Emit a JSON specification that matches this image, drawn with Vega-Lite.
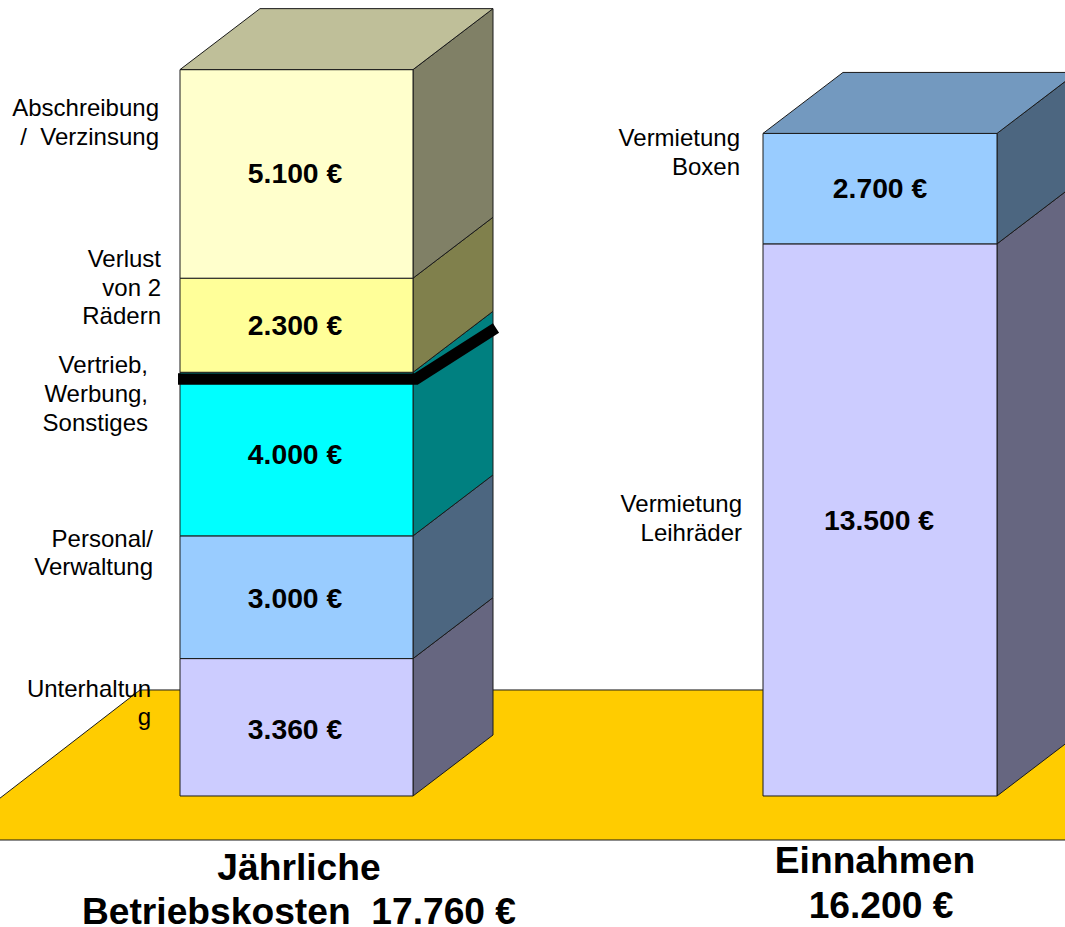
{
"$schema":"https://vega.github.io/schema/vega-lite/v6.json",
"width":1065,"height":927,"padding":0,
"autosize":{"type":"none"},
"background":"white",
"config":{"view":{"stroke":null}},
"datasets":{
"faces":[
{"face":"Boden","x":-5,"low":-1076,"high":-147},{"face":"Boden","x":140,"low":-1076,"high":2592},{"face":"Boden","x":1070,"low":-1076,"high":2592},
{"face":"Kosten Unterhaltung Seite","x":413,"low":0,"high":3360},{"face":"Kosten Unterhaltung Seite","x":493,"low":1491,"high":4851},
{"face":"Kosten Unterhaltung vorn","x":180,"low":0,"high":3360},{"face":"Kosten Unterhaltung vorn","x":413,"low":0,"high":3360},
{"face":"Kosten Personal Seite","x":413,"low":3360,"high":6360},{"face":"Kosten Personal Seite","x":493,"low":4851,"high":7851},
{"face":"Kosten Personal vorn","x":180,"low":3360,"high":6360},{"face":"Kosten Personal vorn","x":413,"low":3360,"high":6360},
{"face":"Kosten Vertrieb Seite","x":413,"low":6360,"high":10360},{"face":"Kosten Vertrieb Seite","x":493,"low":7851,"high":11851},
{"face":"Kosten Vertrieb vorn","x":180,"low":6360,"high":10360},{"face":"Kosten Vertrieb vorn","x":413,"low":6360,"high":10360},
{"face":"Kosten Verlust Seite","x":413,"low":10360,"high":12660},{"face":"Kosten Verlust Seite","x":493,"low":11851,"high":14151},
{"face":"Kosten Verlust vorn","x":180,"low":10360,"high":12660},{"face":"Kosten Verlust vorn","x":413,"low":10360,"high":12660},
{"face":"Kosten Abschreibung Seite","x":413,"low":12660,"high":17760},{"face":"Kosten Abschreibung Seite","x":493,"low":14151,"high":19251},
{"face":"Kosten Abschreibung vorn","x":180,"low":12660,"high":17760},{"face":"Kosten Abschreibung vorn","x":413,"low":12660,"high":17760},
{"face":"Kosten Deckel","x":180,"low":17760,"high":17760},{"face":"Kosten Deckel","x":260,"low":17760,"high":19251},{"face":"Kosten Deckel","x":413,"low":17760,"high":19251},{"face":"Kosten Deckel","x":493,"low":19251,"high":19251},
{"face":"Einnahmen Leihräder Seite","x":997,"low":0,"high":13500},{"face":"Einnahmen Leihräder Seite","x":1077,"low":1491,"high":14991},
{"face":"Einnahmen Leihräder vorn","x":763,"low":0,"high":13500},{"face":"Einnahmen Leihräder vorn","x":997,"low":0,"high":13500},
{"face":"Einnahmen Boxen Seite","x":997,"low":13500,"high":16200},{"face":"Einnahmen Boxen Seite","x":1077,"low":14991,"high":17691},
{"face":"Einnahmen Boxen vorn","x":763,"low":13500,"high":16200},{"face":"Einnahmen Boxen vorn","x":997,"low":13500,"high":16200},
{"face":"Einnahmen Deckel","x":763,"low":16200,"high":16200},{"face":"Einnahmen Deckel","x":843,"low":16200,"high":17691},{"face":"Einnahmen Deckel","x":997,"low":16200,"high":17691},{"face":"Einnahmen Deckel","x":1077,"low":17691,"high":17691}
],
"marker":[{"x":178,"v":10196},{"x":416,"v":10196},{"x":496,"v":11443}],
"labels":[
{"x":159,"v":16626,"t":"Abschreibung"},{"x":159,"v":15917,"t":"/\u00a0\u00a0Verzinsung"},
{"x":161,"v":12934,"t":"Verlust"},{"x":161,"v":12225,"t":"von 2"},{"x":161,"v":11540,"t":"Rädern"},
{"x":148,"v":10342,"t":"Vertrieb,"},{"x":148,"v":9633,"t":"Werbung,"},{"x":148,"v":8924,"t":"Sonstiges"},
{"x":153,"v":6088,"t":"Personal/"},{"x":153,"v":5403,"t":"Verwaltung"},
{"x":151,"v":2421,"t":"Unterhaltun"},{"x":151,"v":1736,"t":"g"},
{"x":740,"v":15892,"t":"Vermietung"},{"x":740,"v":15183,"t":"Boxen"},
{"x":742,"v":6944,"t":"Vermietung"},{"x":742,"v":6235,"t":"Leihräder"}
],
"amounts":[
{"x":295,"v":14988,"t":"5.100 €"},{"x":295,"v":11271,"t":"2.300 €"},{"x":295,"v":8117,"t":"4.000 €"},{"x":295,"v":4597,"t":"3.000 €"},{"x":295,"v":1394,"t":"3.360 €"},
{"x":880,"v":14621,"t":"2.700 €"},{"x":879,"v":6504,"t":"13.500 €"}
],
"titles":[
{"x":299,"v":-2054,"t":"Jährliche"},{"x":299,"v":-3130,"t":"Betriebskosten\u00a0\u00a017.760 €"},
{"x":875,"v":-1883,"t":"Einnahmen"},{"x":881,"v":-2983,"t":"16.200 €"}
]
},
"resolve":{"scale":{"color":"independent"}},
"layer":[
{"data":{"name":"faces"},
"mark":{"type":"area","clip":true,"stroke":"#1a1a1a","strokeWidth":1,"opacity":1},
"encoding":{
"x":{"field":"x","type":"quantitative","scale":{"domain":[0,1065],"nice":false,"zero":false},"axis":null},
"y":{"field":"low","type":"quantitative","stack":null,"scale":{"domain":[-3203,19462],"nice":false,"zero":false},"axis":null},
"y2":{"field":"high"},
"color":{"field":"face","type":"nominal","legend":null,"scale":{
"domain":["Boden","Kosten Unterhaltung Seite","Kosten Unterhaltung vorn","Kosten Personal Seite","Kosten Personal vorn","Kosten Vertrieb Seite","Kosten Vertrieb vorn","Kosten Verlust Seite","Kosten Verlust vorn","Kosten Abschreibung Seite","Kosten Abschreibung vorn","Kosten Deckel","Einnahmen Leihräder Seite","Einnahmen Leihräder vorn","Einnahmen Boxen Seite","Einnahmen Boxen vorn","Einnahmen Deckel"],
"range":["#ffcc00","#666680","#ccccff","#4c6680","#99ccff","#008080","#00ffff","#80804c","#ffff99","#808066","#ffffcc","#bfbf99","#666680","#ccccff","#4c6680","#99ccff","#7399bf"]}}
}},
{"data":{"name":"marker"},
"mark":{"type":"line","stroke":"black","strokeWidth":11.5,"strokeJoin":"miter","strokeCap":"butt"},
"encoding":{
"x":{"field":"x","type":"quantitative","scale":{"domain":[0,1065],"nice":false,"zero":false},"axis":null},
"y":{"field":"v","type":"quantitative","scale":{"domain":[-3203,19462],"nice":false,"zero":false},"axis":null}
}},
{"data":{"name":"labels"},
"mark":{"type":"text","align":"right","baseline":"alphabetic","font":"Liberation Sans","fontSize":24,"color":"#000000"},
"encoding":{
"x":{"field":"x","type":"quantitative","scale":{"domain":[0,1065],"nice":false,"zero":false},"axis":null},
"y":{"field":"v","type":"quantitative","scale":{"domain":[-3203,19462],"nice":false,"zero":false},"axis":null},
"text":{"field":"t"}
}},
{"data":{"name":"amounts"},
"mark":{"type":"text","align":"center","baseline":"alphabetic","font":"Liberation Sans","fontWeight":"bold","fontSize":28.3,"color":"#000000"},
"encoding":{
"x":{"field":"x","type":"quantitative","scale":{"domain":[0,1065],"nice":false,"zero":false},"axis":null},
"y":{"field":"v","type":"quantitative","scale":{"domain":[-3203,19462],"nice":false,"zero":false},"axis":null},
"text":{"field":"t"}
}},
{"data":{"name":"titles"},
"mark":{"type":"text","align":"center","baseline":"alphabetic","font":"Liberation Sans","fontWeight":"bold","fontSize":37.2,"color":"#000000"},
"encoding":{
"x":{"field":"x","type":"quantitative","scale":{"domain":[0,1065],"nice":false,"zero":false},"axis":null},
"y":{"field":"v","type":"quantitative","scale":{"domain":[-3203,19462],"nice":false,"zero":false},"axis":null},
"text":{"field":"t"}
}}
]
}
